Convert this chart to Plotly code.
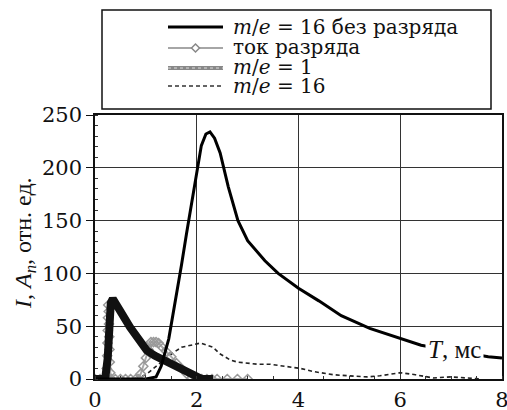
import plotly.graph_objects as go

# ---- data ----
no_dis_x = [0, 0.5, 1.0, 1.2, 1.3, 1.45, 1.6, 1.7, 1.8, 1.9, 2.0, 2.09, 2.18, 2.26, 2.35, 2.46,
            2.62, 2.81, 3.0, 3.34, 3.6, 4.0, 4.4, 4.84, 5.4, 5.96, 6.41, 7.0, 7.73, 8.0]
no_dis_y = [0, 0, 0, 2, 12, 38, 78, 108, 138, 167, 195, 221, 232, 234, 228, 214,
            182, 150, 131, 112, 100, 86, 74, 60, 48, 39, 32, 27, 21, 20]

cur_x = [0, 0.1, 0.2, 0.22, 0.23, 0.24, 0.245, 0.25, 0.255, 0.26, 0.27, 0.275, 0.28, 0.285, 0.29,
         0.30, 0.32, 0.4, 0.5, 0.6, 0.7, 0.8, 0.86, 0.9, 0.95, 1.0, 1.05, 1.1, 1.15, 1.2, 1.25,
         1.3, 1.4, 1.5, 1.6, 1.7, 1.8, 1.9, 2.0, 2.1, 2.2, 2.3, 2.4, 2.6, 2.8, 3.0]
cur_y = [0, 0, 0, 0, 10, 22, 34, 46, 58, 70, 64, 52, 40, 28, 16,
         6, 0, 0, 0, 0, 0, 0, 0, 5, 12, 20, 28, 35, 35, 35, 34,
         31, 26, 21, 15, 10, 5, 1, 0, 0, 0, 0, 0, 0, 0, 0]

h_x = [0, 0.1, 0.2, 0.25, 0.28, 0.31, 0.35, 0.4, 0.5, 0.69, 0.85, 1.02, 1.18, 1.34, 1.5, 1.67,
       1.8, 1.93, 2.0, 2.1, 2.32]
h_y = [0, 0, 0, 20, 55, 72, 76, 73, 64, 49, 37, 27, 22, 18, 14, 11, 8, 4, 1, 0, 0]

m16_x = [0.8, 1.0, 1.2, 1.4, 1.54, 1.7, 1.87, 2.07, 2.2, 2.32, 2.45, 2.66, 2.8, 2.99, 3.2, 3.44,
         3.7, 4.04, 4.3, 4.69, 5.0, 5.35, 5.6, 6.0, 6.3, 6.65, 7.0, 7.3, 7.6]
m16_y = [0, 4, 12, 20, 25, 30, 32, 34, 32, 30, 24, 18, 16, 15, 14, 14,
         12, 10, 7, 4, 3, 2, 3, 6, 4, 1, 2, 1, 0]

x_ticks = [0, 2, 4, 6, 8]
y_ticks = [0, 50, 100, 150, 200, 250]
legend_labels = ["<i>m</i>/<i>e</i> = 16 без разряда", "ток разряда",
                 "<i>m</i>/<i>e</i> = 1", "<i>m</i>/<i>e</i> = 16"]

# ---- layout geometry ----
W, H = 507, 410
L, R, T, B = 95, 5, 115, 31
PW, PH = W - L - R, H - T - B
FONT = "Liberation Serif"
WIDE = "DejaVu Serif"


def px(x):
    return (x - L) / PW


def py(y):
    return (H - B - y) / PH


fig = go.Figure()
fig.add_trace(go.Scatter(x=m16_x, y=m16_y, mode="lines", showlegend=False,
                         line=dict(color="#222", width=1.6, dash="4px,3px")))
fig.add_trace(go.Scatter(x=cur_x, y=cur_y, mode="lines+markers", showlegend=False,
                         line=dict(color="#aaa", width=2),
                         marker=dict(symbol="diamond-open", size=7, color="#999",
                                     line=dict(width=1.5, color="#999"))))
fig.add_trace(go.Scatter(x=h_x, y=h_y, mode="lines", showlegend=False,
                         line=dict(color="#111", width=8)))
fig.add_trace(go.Scatter(x=no_dis_x, y=no_dis_y, mode="lines", showlegend=False,
                         line=dict(color="#000", width=3)))

shapes = []
shapes.append(dict(type="rect", xref="paper", yref="paper", x0=px(102), x1=px(491),
                   y0=py(109), y1=py(10), line=dict(color="#111", width=1.5),
                   fillcolor="white", layer="above"))
rows = [27, 47, 67, 86]
sx0, sx1 = px(168), px(223)
shapes.append(dict(type="line", xref="paper", yref="paper", x0=sx0, x1=sx1, y0=py(rows[0]),
                   y1=py(rows[0]), line=dict(color="#000", width=3)))
shapes.append(dict(type="line", xref="paper", yref="paper", x0=sx0, x1=sx1, y0=py(rows[1] + 1),
                   y1=py(rows[1] + 1), line=dict(color="#888", width=1.5)))
cx, cy = 195.5, rows[1] + 1
shapes.append(dict(type="path", xref="paper", yref="paper",
                   path=f"M {px(cx-4)} {py(cy)} L {px(cx)} {py(cy-4)} L {px(cx+4)} {py(cy)} L {px(cx)} {py(cy+4)} Z",
                   fillcolor="white", line=dict(color="#888", width=1.5)))
shapes.append(dict(type="line", xref="paper", yref="paper", x0=sx0, x1=sx1, y0=py(rows[2] + 1),
                   y1=py(rows[2] + 1), line=dict(color="#888", width=4)))
shapes.append(dict(type="line", xref="paper", yref="paper", x0=sx0, x1=sx1, y0=py(rows[2] + 1),
                   y1=py(rows[2] + 1), line=dict(color="#ddd", width=1, dash="dot")))
shapes.append(dict(type="line", xref="paper", yref="paper", x0=sx0, x1=sx1, y0=py(rows[3]),
                   y1=py(rows[3]), line=dict(color="#333", width=1.5, dash="4px,3px")))

annotations = []
for lab, ry in zip(legend_labels, rows):
    annotations.append(dict(xref="paper", yref="paper", x=px(231), y=py(ry), text=lab,
                            showarrow=False, xanchor="left", yanchor="middle",
                            font=dict(family=WIDE, size=20, color="#111")))
annotations.append(dict(xref="paper", yref="paper", x=px(25), y=py(243),
                        text="<i>I</i>, <i>A</i><sub><i>n</i></sub>, отн. ед.",
                        textangle=-90, showarrow=False, xanchor="center", yanchor="middle",
                        font=dict(family=FONT, size=24, color="#111")))
annotations.append(dict(x=7.07, y=27.5, xref="x", yref="y", text="<i>T</i>, мс",
                        showarrow=False, bgcolor="white", borderpad=2,
                        font=dict(family=FONT, size=25, color="#111")))

fig.update_layout(
    width=W, height=H, margin=dict(l=L, r=R, t=T, b=B, pad=0, autoexpand=False),
    paper_bgcolor="white", plot_bgcolor="white",
    font=dict(family=FONT, size=24, color="#111"),
    shapes=shapes, annotations=annotations, showlegend=False,
)
fig.update_xaxes(range=[0, 8], tickvals=x_ticks, ticktext=[str(v) for v in x_ticks],
                 automargin=False,
                 showgrid=True, gridcolor="#333", gridwidth=1.2,
                 showline=True, linecolor="#111", linewidth=1.5, mirror=True,
                 ticks="outside", ticklen=1, tickcolor="rgba(0,0,0,0)", zeroline=False,
                 ticklabeloverflow="allow",
                 minor=dict(dtick=0.5, ticks="inside", ticklen=3, tickcolor="#333", showgrid=False),
                 tickfont=dict(family=WIDE, size=21, color="#111"))
fig.update_yaxes(range=[0, 250], tickvals=y_ticks, ticktext=[str(v) for v in y_ticks],
                 automargin=False,
                 showgrid=True, gridcolor="#333", gridwidth=1.2,
                 showline=True, linecolor="#111", linewidth=1.5, mirror=True,
                 ticks="outside", ticklen=7, tickcolor="#111", zeroline=False,
                 minor=dict(dtick=10, ticks="inside", ticklen=3, tickcolor="#333", showgrid=False),
                 tickfont=dict(family=WIDE, size=21, color="#111"))

fig.write_html("out.html", config={"displayModeBar": False},
               post_script="document.body.style.margin='0';document.body.style.padding='0';")
